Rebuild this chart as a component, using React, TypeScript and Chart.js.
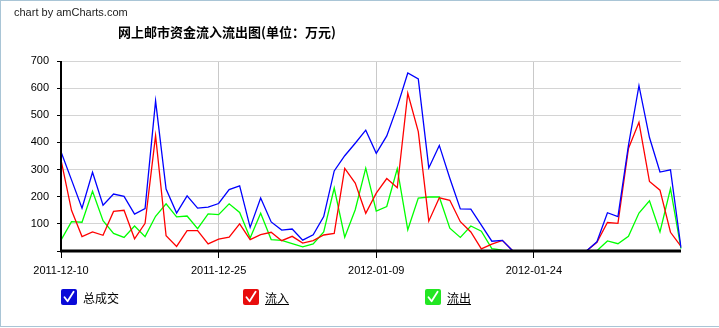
import React, { useEffect, useRef } from "react";
import { Chart, registerables } from "chart.js";

Chart.register(...registerables);

const dates = [
  "2011-12-10", "2011-12-11", "2011-12-12", "2011-12-13", "2011-12-14", "2011-12-15",
  "2011-12-16", "2011-12-17", "2011-12-18", "2011-12-19", "2011-12-20", "2011-12-21",
  "2011-12-22", "2011-12-23", "2011-12-24", "2011-12-25", "2011-12-26", "2011-12-27",
  "2011-12-28", "2011-12-29", "2011-12-30", "2011-12-31", "2012-01-01", "2012-01-02",
  "2012-01-03", "2012-01-04", "2012-01-05", "2012-01-06", "2012-01-07", "2012-01-08",
  "2012-01-09", "2012-01-10", "2012-01-11", "2012-01-12", "2012-01-13", "2012-01-14",
  "2012-01-15", "2012-01-16", "2012-01-17", "2012-01-18", "2012-01-19", "2012-01-20",
  "2012-01-21", "2012-01-22", "2012-01-23", "2012-01-24", "2012-01-25", "2012-01-26",
  "2012-01-27", "2012-01-28", "2012-01-29", "2012-01-30", "2012-01-31", "2012-02-01",
  "2012-02-02", "2012-02-03", "2012-02-04", "2012-02-05", "2012-02-06", "2012-02-07",
];

// 总成交
const totalTrade = [
  366, 262, 158, 290, 169, 210, 201, 136, 156, 553,
  228, 140, 203, 158, 162, 175, 226, 240, 87, 195,
  107, 77, 81, 40, 60, 127, 295, 351, 397, 445,
  360, 424, 532, 656, 634, 306, 389, 268, 155, 154,
  95, 36, 39, 0, 0, 0, 0, 0, 0, 0,
  0, 34, 141, 127, 389, 609, 418, 291, 299, 12,
];

// 流入
const inflow = [
  336, 150, 53, 70, 58, 146, 150, 45, 102, 425,
  56, 17, 75, 75, 26, 44, 51, 100, 42, 60,
  69, 38, 54, 29, 38, 59, 65, 304, 250, 139,
  213, 267, 233, 581, 440, 110, 196, 187, 108, 70,
  8, 25, 39, 0, 0, 0, 0, 0, 0, 0,
  0, 32, 105, 102, 378, 474, 256, 224, 69, 17,
];

// 流出
const outflow = [
  40, 108, 106, 220, 112, 65, 50, 92, 53, 128,
  174, 126, 129, 82, 137, 134, 174, 142, 48, 139,
  42, 39, 27, 15, 26, 70, 232, 51, 152, 305,
  147, 164, 303, 78, 195, 199, 199, 84, 50, 92,
  73, 9, 3, 0, 0, 0, 0, 0, 0, 0,
  0, 1, 37, 27, 54, 140, 185, 70, 230, 9,
];

const seriesNames = ["总成交", "流入", "流出"];
const lineColors = ["#0000ff", "#ff0000", "#00ff00"];
const boxColors = ["#0a0ad8", "#e80d0d", "#22e622"];
const legendX = [61, 243, 425];
const underlined = [false, true, true];

const Y_MIN = 0;
const Y_MAX = 700;
const Y_STEP = 100;
const X_LABEL_EVERY = 15;

const axisFont = { family: "'Liberation Sans', Arial, sans-serif", size: 11 };

function Check() {
  return (
    <svg width="16" height="16" viewBox="0 0 16 16" style={{ position: "absolute", left: 0, top: 0 }}>
      <path d="M3.5 8.2 L6.6 12.2 L12.6 2.8" stroke="#fff" strokeWidth="1.8" fill="none" strokeLinecap="round" strokeLinejoin="round" />
    </svg>
  );
}

export default function App() {
  const ref = useRef<HTMLCanvasElement>(null);

  useEffect(() => {
    if (!ref.current) return;
    const axisPlugin = {
      id: "amAxes",
      afterDatasetsDraw(chart: any) {
        const { ctx, chartArea, scales } = chart;
        const y0 = scales.y.getPixelForValue(0);
        const yTop = scales.y.getPixelForValue(Y_MAX);
        ctx.save();
        ctx.strokeStyle = "#000";
        ctx.lineWidth = 2;
        ctx.beginPath();
        ctx.moveTo(chartArea.left, yTop);
        ctx.lineTo(chartArea.left, y0);
        ctx.stroke();
        ctx.lineWidth = 3;
        ctx.beginPath();
        ctx.moveTo(chartArea.left - 1, y0);
        ctx.lineTo(chartArea.right, y0);
        ctx.stroke();
        ctx.restore();
      },
    };

    const chart = new Chart(ref.current, {
      type: "line",
      data: {
        labels: dates,
        datasets: [totalTrade, inflow, outflow].map((d, i) => ({
          label: seriesNames[i],
          data: d,
          borderColor: lineColors[i],
          backgroundColor: lineColors[i],
          borderWidth: 1.3,
          pointRadius: 0,
          tension: 0,
          fill: false,
        })),
      },
      options: {
        responsive: false,
        animation: false,
        layout: { padding: { left: 0, top: 61, right: 38, bottom: 0 } },
        plugins: {
          legend: { display: false },
          tooltip: { enabled: false },
          title: { display: false },
        },
        scales: {
          x: {
            type: "category",
            offset: false,
            afterFit: (s: any) => {
              s.height = 77;
            },
            border: { display: false },
            grid: {
              color: (c: any) => (c.index % X_LABEL_EVERY === 0 && c.index > 0 ? "#c9c9c9" : "rgba(0,0,0,0)"),
              tickColor: (c: any) => (c.index % X_LABEL_EVERY === 0 ? "#000" : "rgba(0,0,0,0)"),
              tickLength: 7,
              lineWidth: 1,
            },
            ticks: {
              autoSkip: false,
              maxRotation: 0,
              minRotation: 0,
              padding: 6,
              color: "#000",
              font: axisFont,
              callback: (_v: any, idx: number) => (idx % X_LABEL_EVERY === 0 ? dates[idx] : ""),
            },
          },
          y: {
            min: Y_MIN,
            max: Y_MAX,
            afterFit: (s: any) => {
              s.width = 61;
            },
            border: { display: false },
            grid: {
              color: "#d4d4d4",
              tickColor: "#000",
              tickLength: 4,
              lineWidth: 1,
            },
            ticks: {
              stepSize: Y_STEP,
              padding: 8,
              color: "#000",
              font: axisFont,
              callback: (v: any) => (v === 0 ? "" : String(v)),
            },
          },
        },
      },
      plugins: [axisPlugin],
    } as any);

    return () => chart.destroy();
  }, []);

  return (
    <div style={{ position: "fixed", left: 0, top: 0, width: 719, height: 328, background: "#fff", overflow: "hidden" }}>
      <canvas ref={ref} width={719} height={328} style={{ position: "absolute", left: 0, top: 0, width: 719, height: 328 }} />
      <div
        style={{
          position: "absolute",
          left: 0,
          top: 0,
          width: 719,
          height: 327,
          boxSizing: "border-box",
          borderLeft: "1px solid #a9c5d6",
          borderTop: "1px solid #a9c5d6",
          borderBottom: "1px solid #a9c5d6",
          pointerEvents: "none",
        }}
      />
      <div
        style={{
          position: "absolute",
          left: 14,
          top: 6,
          font: "11px 'Liberation Sans', Arial, sans-serif",
          lineHeight: "13px",
          color: "#222",
          whiteSpace: "nowrap",
        }}
      >
        chart by amCharts.com
      </div>
      <div
        style={{
          position: "absolute",
          left: 118,
          top: 24,
          fontFamily: "'Noto Sans CJK SC', sans-serif",
          fontSize: 13,
          fontWeight: 700,
          lineHeight: "16px",
          color: "#000",
          whiteSpace: "nowrap",
        }}
      >
        网上邮市资金流入流出图(单位：万元)
      </div>
      {seriesNames.map((name, i) => (
        <div key={name} style={{ position: "absolute", left: legendX[i], top: 289, height: 16, whiteSpace: "nowrap" }}>
          <div
            style={{
              position: "absolute",
              left: 0,
              top: 0,
              width: 16,
              height: 16,
              borderRadius: 2,
              background: boxColors[i],
            }}
          >
            <Check />
          </div>
          <span
            style={{
              position: "absolute",
              left: 22,
              top: 0,
              fontFamily: "'Noto Sans CJK SC', sans-serif",
              fontSize: 12,
              lineHeight: "17px",
              color: "#000",
              textDecoration: underlined[i] ? "underline" : "none",
            }}
          >
            {name}
          </span>
        </div>
      ))}
    </div>
  );
}
